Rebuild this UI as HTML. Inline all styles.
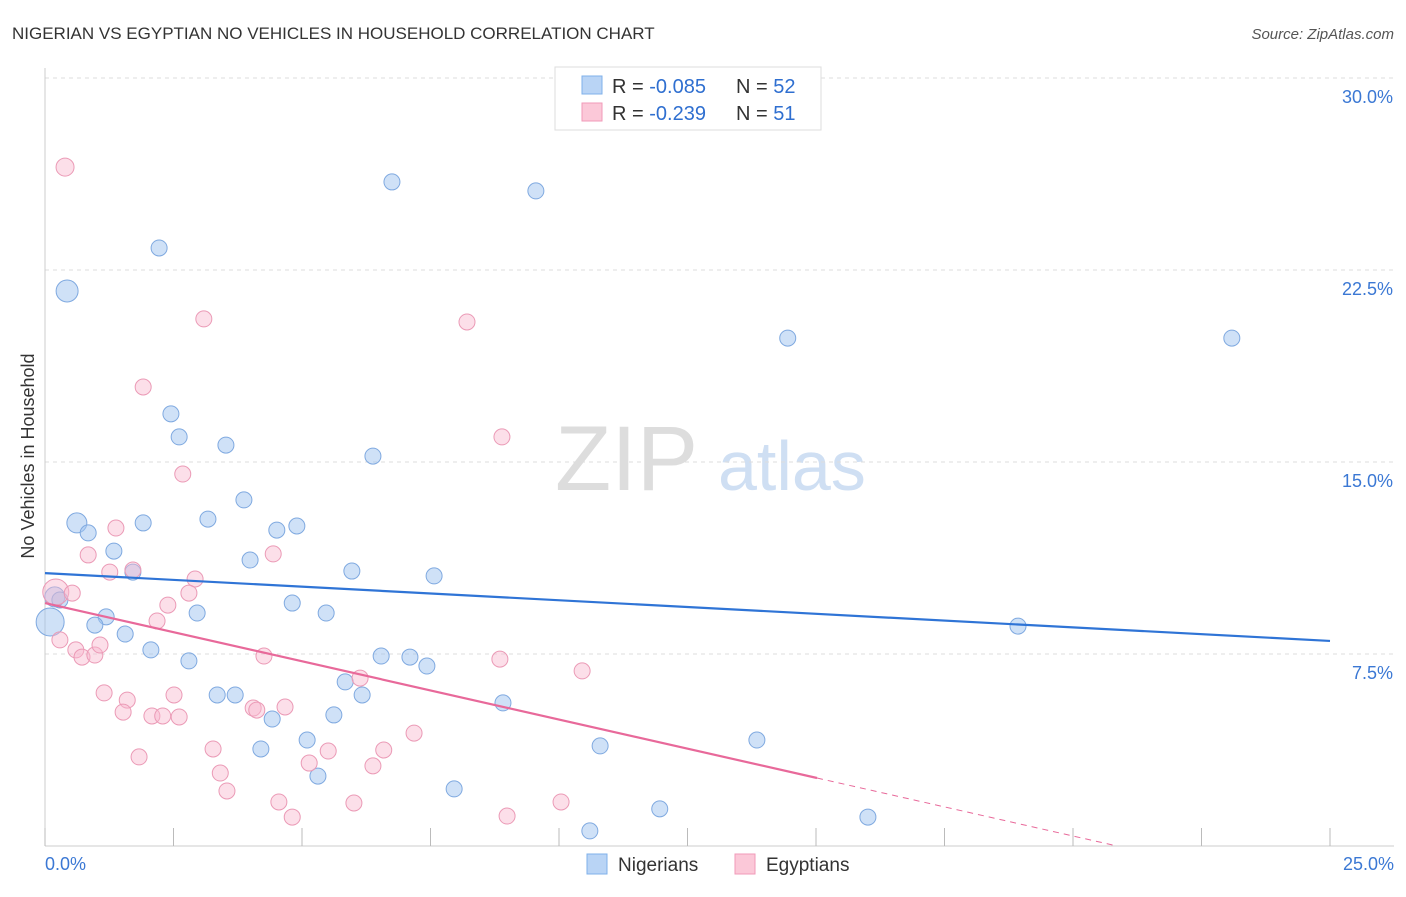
<!DOCTYPE html>
<html><head><meta charset="utf-8">
<style>
body{margin:0;background:#fff;font-family:"Liberation Sans",sans-serif;}
svg text{font-family:"Liberation Sans",sans-serif;}
</style></head>
<body>
<svg id="chart" width="1406" height="892">
<text x="12" y="39" font-size="17" fill="#333">NIGERIAN VS EGYPTIAN NO VEHICLES IN HOUSEHOLD CORRELATION CHART</text>
<text x="1394" y="39" font-size="15" fill="#555" text-anchor="end" font-style="italic">Source: ZipAtlas.com</text>
<text transform="translate(34,456) rotate(-90)" font-size="18" fill="#333" text-anchor="middle">No Vehicles in Household</text>
<g><text x="555" y="490" font-size="92" fill="#ddd" font-family="Liberation Serif">ZIP</text><text x="718" y="490" font-size="70" fill="#cfdff3">atlas</text></g>
<g id="grid"></g>
<g id="axes"></g>
<g id="marks"></g>
<g>
<rect x="555" y="67" width="266" height="63" fill="#fff" stroke="#ddd"/>
<rect x="582" y="76" width="20" height="18" fill="#b9d4f5" stroke="#7fb0ea"/>
<rect x="582" y="103" width="20" height="18" fill="#fbc8d8" stroke="#f09ab8"/>
<text x="612" y="93" font-size="20" fill="#333">R = <tspan fill="#2f6fd0">-0.085</tspan></text>
<text x="736" y="93" font-size="20" fill="#333">N = <tspan fill="#2f6fd0">52</tspan></text>
<text x="612" y="120" font-size="20" fill="#333">R =  <tspan fill="#2f6fd0">-0.239</tspan></text>
<text x="736" y="120" font-size="20" fill="#333">N =  <tspan fill="#2f6fd0">51</tspan></text>
</g>
<g>
<rect x="587" y="854" width="20" height="20" fill="#b9d4f5" stroke="#7fb0ea"/>
<text x="618" y="871" font-size="19" fill="#333">Nigerians</text>
<rect x="735" y="854" width="20" height="20" fill="#fbc8d8" stroke="#f09ab8"/>
<text x="766" y="871" font-size="19" fill="#333">Egyptians</text>
</g>
</svg>
<script>
const yTicks=[7.5,15,22.5,30];
const yTickLabels=["7.5%","15.0%","22.5%","30.0%"];
const xTickLabels=["0.0%","25.0%"];
const nigX=[0.43,2.22,6.75,9.55,14.45,23.09,2.45,2.61,3.52,6.38,3.87,0.62,0.84,1.91,3.17,4.9,4.51,1.34,3.99,1.71,5.97,7.57,0.19,0.29,1.19,0.97,2.96,4.81,5.47,1.56,18.93,2.06,2.8,6.54,7.1,7.43,6.17,5.84,3.35,3.7,8.91,4.42,5.62,5.1,4.2,10.8,13.85,5.31,7.96,11.96,16.01,10.6,0.1];
const nigY=[21.68,23.36,25.94,25.59,19.84,19.84,16.88,15.98,15.66,15.23,13.52,12.62,12.23,12.62,12.77,12.5,12.34,11.52,11.17,10.7,10.74,10.55,9.73,9.61,8.95,8.63,9.1,9.49,9.1,8.28,8.59,7.66,7.23,7.42,7.38,7.03,5.9,6.41,5.9,5.9,5.59,4.96,5.12,4.14,3.79,3.91,4.14,2.73,2.23,1.45,1.13,0.59,8.75];
const nigR=[11,8,8,8,8,8,8,8,8,8,8,10,8,8,8,8,8,8,8,8,8,8,10,8,8,8,8,8,8,8,8,8,8,8,8,8,8,8,8,8,8,8,8,8,8,8,8,8,8,8,8,8,14];
const egyX=[0.39,3.09,8.21,1.91,8.89,2.68,1.38,0.84,4.44,1.26,1.71,2.92,0.21,0.53,2.8,2.39,2.18,0.29,0.6,0.72,0.97,1.07,4.26,8.85,10.45,1.15,2.51,1.6,1.52,2.08,2.29,2.61,4.05,4.12,4.67,6.13,7.18,3.27,6.59,5.51,1.83,3.41,5.14,6.38,3.54,4.55,6.01,10.04,4.81,8.99];
const egyY=[26.52,20.59,20.47,17.93,15.98,14.53,12.42,11.37,11.41,10.7,10.78,10.43,9.92,9.88,9.88,9.41,8.79,8.05,7.66,7.38,7.46,7.85,7.42,7.3,6.84,5.98,5.9,5.7,5.23,5.08,5.08,5.04,5.39,5.31,5.43,6.56,4.41,3.79,3.75,3.71,3.48,2.85,3.24,3.13,2.15,1.72,1.68,1.72,1.13,1.17];
const egyR=[9,8,8,8,8,8,8,8,8,8,8,8,13,8,8,8,8,8,8,8,8,8,8,8,8,8,8,8,8,8,8,8,8,8,8,8,8,8,8,8,8,8,8,8,8,8,8,8,8,8];
const nigTrend=[10.66,8.01];
const egyTrend=[9.49,-0.455,15.02];
const NS="http://www.w3.org/2000/svg";
const sx=v=>45+v/25*1285;
const sy=v=>846-v*25.6;
function mk(tag,attrs,parent){const e=document.createElementNS(NS,tag);for(const k in attrs)e.setAttribute(k,attrs[k]);document.getElementById(parent).appendChild(e);return e;}
yTicks.forEach((t,i)=>{
 const l=mk('line',{x1:45,x2:1394,y1:sy(t),y2:sy(t),stroke:'#ddd','stroke-dasharray':'4,4'},'grid');
 
 
 const tx=mk('text',{x:1393,y:sy(t)+25,'font-size':18,fill:'#3b78d4','text-anchor':'end'},'axes');
 tx.textContent=yTickLabels[i];
 
 
});
const ax=mk('line',{x1:45,x2:45,y1:68,y2:846,stroke:'#ccc'},'axes');


const bx=mk('line',{x1:45,x2:1394,y1:846,y2:846,stroke:'#ccc'},'axes');


for(let i=0;i<=10;i++){
 const t=mk('line',{x1:sx(i*2.5),x2:sx(i*2.5),y1:828,y2:846,stroke:'#bbb'},'axes');
 
 
}
const xl0=mk('text',{x:45,y:870,'font-size':18,fill:'#3b78d4'},'axes');xl0.textContent=xTickLabels[0];


const xl1=mk('text',{x:1394,y:870,'font-size':18,fill:'#3b78d4','text-anchor':'end'},'axes');xl1.textContent=xTickLabels[1];


nigX.forEach((x,i)=>{
 const c=mk('circle',{cx:sx(x),cy:sy(nigY[i]),r:nigR[i],fill:'rgba(160,196,240,0.5)',stroke:'#7fa9e0','stroke-width':1},'marks');
 
 
});
egyX.forEach((x,i)=>{
 const c=mk('circle',{cx:sx(x),cy:sy(egyY[i]),r:egyR[i],fill:'rgba(248,184,206,0.45)',stroke:'#eb9ab6','stroke-width':1},'marks');
 
 
});
const bl=mk('line',{x1:sx(0),y1:sy(nigTrend[0]),x2:sx(25),y2:sy(nigTrend[1]),stroke:'#2f74d6','stroke-width':2.2},'marks');


const pe=egyTrend[2];
const pl=mk('line',{x1:sx(0),y1:sy(egyTrend[0]),x2:sx(pe),y2:sy(egyTrend[0]+egyTrend[1]*pe),stroke:'#e8699a','stroke-width':2.2},'marks');


const zx=-egyTrend[0]/egyTrend[1];
const pd=mk('line',{x1:sx(pe),y1:sy(egyTrend[0]+egyTrend[1]*pe),x2:sx(zx),y2:sy(0),stroke:'#e8699a','stroke-width':1,'stroke-dasharray':'6,5'},'marks');


</script>
</body></html>
